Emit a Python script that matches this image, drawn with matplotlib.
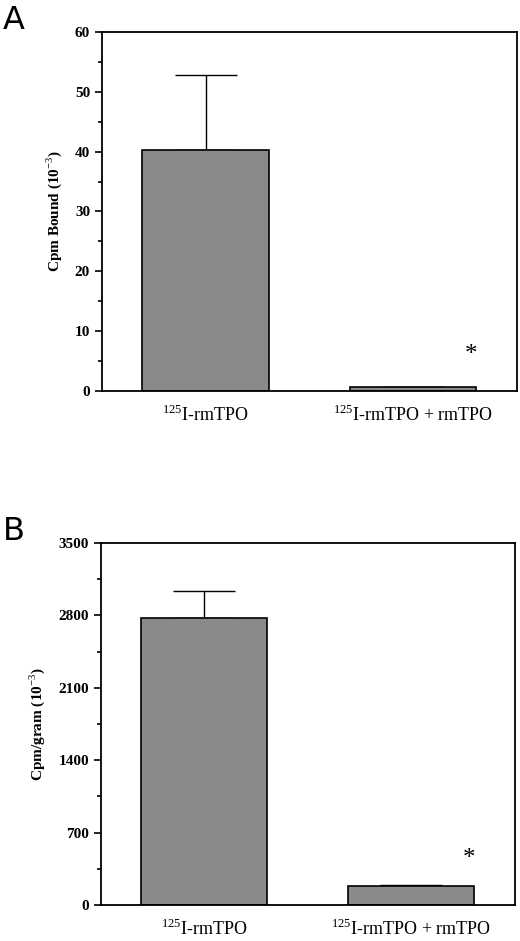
import numpy as np
import matplotlib.pyplot as plt

groups = ['$^{125}$I-rmTPO', '$^{125}$I-rmTPO + rmTPO']
bound_mean = [40.2, 0.6]
bound_err = [12.6, 0.0]
gram_mean = [2770, 180]
gram_err = [270, 15]

plt.rcParams['font.family'] = ['Liberation Serif', 'DejaVu Serif']
plt.rcParams['mathtext.fontset'] = 'custom'
plt.rcParams['mathtext.rm'] = 'Liberation Serif'

fig = plt.figure(figsize=(5.2, 9.41), dpi=100)


def draw_panel(ax, means, errs, ymax, step, ylabel, star_y, pad):
    x = np.arange(len(means))
    ax.bar(x, means, width=0.61, color='#8a8a8a', edgecolor='black', linewidth=1.2, zorder=2)
    ax.errorbar(x, means, yerr=[np.zeros(len(errs)), errs], fmt='none', ecolor='black',
                elinewidth=1.0, capsize=22, capthick=1.0, zorder=1)
    ax.set_xlim(-0.5, 1.5)
    ax.set_ylim(0, ymax)
    ax.set_yticks(np.arange(0, ymax + 1, step))
    ax.set_yticks(np.arange(0, ymax + 1, step / 2), minor=True)
    ax.set_xticks(x)
    ax.set_xticklabels(groups, fontsize=13)
    ax.tick_params(axis='x', length=0, pad=pad)
    ax.tick_params(axis='y', which='major', length=5, width=1.2, labelsize=11, direction='out')
    ax.tick_params(axis='y', which='minor', length=3, width=1.2, direction='out')
    for lab in ax.get_yticklabels():
        lab.set_fontweight('bold')
    for s in ax.spines.values():
        s.set_linewidth(1.3)
    ax.set_ylabel(ylabel, fontsize=11, fontweight='bold', labelpad=8)
    ax.text(1.28, star_y, '*', fontsize=18, ha='center', va='center')


ax1 = fig.add_axes([0.196, 0.5845, 0.798, 0.3815])
draw_panel(ax1, bound_mean, bound_err, 60, 10, 'Cpm Bound (10$^{-3}$)', 6.0, 10)
fig.text(0.005, 0.995, 'A', fontsize=23, family='DejaVu Sans', va='top')

ax2 = fig.add_axes([0.194, 0.0383, 0.796, 0.3847])
draw_panel(ax2, gram_mean, gram_err, 3500, 700, 'Cpm/gram (10$^{-3}$)', 440, 10)
fig.text(0.005, 0.452, 'B', fontsize=23, family='DejaVu Sans', va='top')

fig.savefig('out.png', dpi=100)
